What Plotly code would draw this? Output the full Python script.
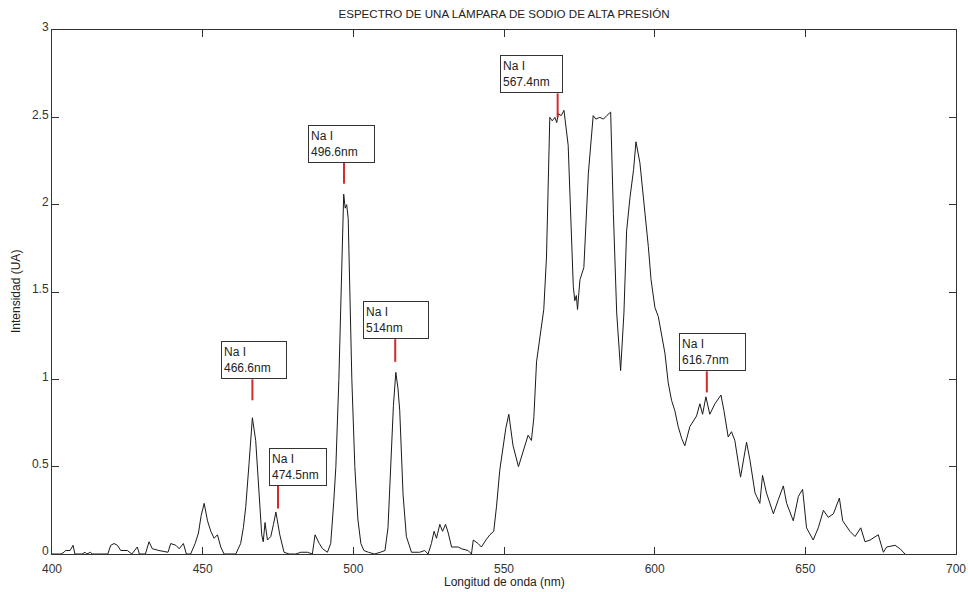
import plotly.graph_objects as go

# ---- Data ----
wavelength_nm = [
    400, 403, 404, 404.5, 406, 407, 407.6, 410, 411, 411.5, 412.8, 413.3, 418.5, 419.5, 420.6,
    421.7, 422.8, 425, 426.5, 428.3, 429, 431, 432.2, 433.3, 435.5, 437.7, 438.5, 439.4,
    441.1, 442.2, 443.6, 444.6, 446, 447.5, 448.6, 449.5, 450.5, 451.6, 452.7, 453.8,
    454.9, 456, 457.1, 461, 462.6, 463.5, 464.3, 465.4, 466.5, 467.6, 468.5, 469.6, 470.1,
    470.7, 471.5, 472.6, 473.5, 474.3, 475.6, 477, 478.7, 480.9, 482.6, 484.8, 486.4,
    487.3, 488.7, 489.8, 491.4, 492.5, 493.5, 494.2, 495.2, 496.0, 496.5, 496.8, 497.3,
    497.8, 498.3, 498.9, 499.5, 500.5, 501.5, 502.5, 503.5, 505, 507, 509, 510.5, 511.5,
    512.5, 513.3, 514.1, 514.8, 515.4, 516.5, 517.6, 519.3, 522, 523.7, 524.8, 525.9,
    526.8, 527.6, 528.7, 529.6, 530.6, 531.5, 532.6, 534.8, 535.9, 538.1, 539.2, 539.8,
    541.4, 542.5, 544, 545.3, 546.6, 547.5, 548.6, 549.7, 550.6, 551.6, 553, 554.8,
    556.5, 558, 559.1, 559.9, 560.8, 561.9, 563.2, 564.1, 564.7, 565.2, 566, 566.9,
    567.5, 568, 569, 569.9, 571.3, 572.4, 573, 573.5, 574, 574.4, 575.2, 576.5, 578,
    579.6, 580.5, 581.8, 583, 584.1, 585.4, 586.3, 587.4, 588.7, 589.8, 590.7, 591.8,
    593, 593.8, 595.1, 596.5, 597.9, 598.8, 600.1, 601.2, 602.3, 603.4, 604.5, 605.6,
    606.7, 607.8, 609, 610, 611.7, 612.8, 613.9, 615, 615.9, 617, 618.3, 620, 622, 623,
    624.4, 625.5, 626.6, 628.5, 630.5, 631.6, 633.3, 634.9, 635.8, 637.1, 639.4, 641,
    642.7, 643.8, 646, 647.7, 649.1, 650.4, 652.6, 654.3, 656, 657.6, 659.3, 661.3,
    662.4, 664.8, 666.5, 668.4, 669.8, 671.5, 674.2, 675.9, 677, 679.8, 681.4, 683.1,
]
intensity_ua = [
    0.00, 0.00, 0.01, 0.02, 0.02, 0.05, 0.00, 0.00, 0.01, 0.00, 0.01, 0.00, 0.00, 0.05, 0.06,
    0.05, 0.02, 0.02, 0.00, 0.04, 0.00, 0.00, 0.07, 0.03, 0.02, 0.01, 0.01, 0.06,
    0.05, 0.03, 0.06, 0.00, 0.00, 0.06, 0.12, 0.22, 0.29, 0.19, 0.13, 0.09,
    0.11, 0.04, 0.00, 0.00, 0.06, 0.15, 0.27, 0.52, 0.78, 0.65, 0.40, 0.11, 0.07,
    0.18, 0.08, 0.10, 0.17, 0.24, 0.11, 0.01, 0.00, 0.00, 0.01, 0.01, 0.00,
    0.11, 0.06, 0.03, 0.01, 0.06, 0.30, 0.50, 1.00, 1.50, 1.95, 2.06, 1.98,
    2.00, 1.92, 1.50, 1.00, 0.50, 0.20, 0.06, 0.02, 0.01, 0.00, 0.01, 0.02, 0.15,
    0.50, 0.85, 1.04, 0.95, 0.82, 0.34, 0.10, 0.01, 0.01, 0.02, 0.00, 0.06,
    0.13, 0.09, 0.17, 0.13, 0.17, 0.12, 0.04, 0.04, 0.03, 0.02, 0.00, 0.08,
    0.06, 0.04, 0.08, 0.11, 0.13, 0.27, 0.48, 0.60, 0.72, 0.80, 0.62, 0.50,
    0.60, 0.68, 0.65, 0.78, 1.10, 1.24, 1.40, 1.70, 2.20, 2.50, 2.48, 2.50,
    2.47, 2.52, 2.51, 2.54, 2.34, 1.85, 1.53, 1.45, 1.48, 1.40, 1.57, 1.64, 2.18,
    2.51, 2.49, 2.50, 2.49, 2.51, 2.53, 1.95, 1.38, 1.05, 1.38, 1.85, 2.04,
    2.20, 2.36, 2.24, 2.01, 1.76, 1.57, 1.41, 1.36, 1.26, 1.15, 0.98, 0.88,
    0.82, 0.73, 0.66, 0.62, 0.73, 0.76, 0.79, 0.86, 0.80, 0.90, 0.80, 0.86, 0.91, 0.82,
    0.67, 0.70, 0.65, 0.44, 0.64, 0.54, 0.35, 0.29, 0.45, 0.35, 0.23, 0.31,
    0.39, 0.29, 0.19, 0.33, 0.37, 0.15, 0.08, 0.15, 0.25, 0.21, 0.23, 0.32,
    0.19, 0.13, 0.10, 0.15, 0.07, 0.08, 0.11, 0.01, 0.04, 0.05, 0.03, 0.00,
]

# Labelled Na I lines
label_texts = ["Na I<br>466.6nm", "Na I<br>474.5nm", "Na I<br>496.6nm",
               "Na I<br>514nm", "Na I<br>567.4nm", "Na I<br>616.7nm"]
marker_x = [466.5, 475.0, 496.9, 513.9, 567.8, 617.3]
marker_bottom = [0.88, 0.26, 2.12, 1.10, 2.50, 0.925]
marker_top = [1.00, 0.39, 2.24, 1.23, 2.637, 1.046]

x_ticks = [400, 450, 500, 550, 600, 650, 700]
y_ticks = [0, 0.5, 1, 1.5, 2, 2.5, 3]

# ---- Layout styling (not data) ----
box_xshift = [-31, -9, -36, -32, -58, -28]
box_width = [60, 52, 61, 60, 57, 61]
FONT = "Liberation Sans, Arial, sans-serif"

fig = go.Figure()
fig.add_trace(go.Scatter(
    x=wavelength_nm, y=intensity_ua, mode="lines",
    line=dict(color="#1a1a1a", width=1), showlegend=False, hoverinfo="x+y",
    cliponaxis=True,
))

shapes = []
annotations = []
for txt, lx, yb, yt, xs, w in zip(label_texts, marker_x, marker_bottom, marker_top,
                                  box_xshift, box_width):
    shapes.append(dict(type="line", xref="x", yref="y", x0=lx, x1=lx, y0=yb, y1=yt,
                       line=dict(color="#d42a2a", width=2)))
    annotations.append(dict(
        x=lx, y=yt, xref="x", yref="y", text=txt, showarrow=False,
        xanchor="left", yanchor="bottom", xshift=xs, align="left", valign="middle",
        width=w, height=32, bordercolor="#333333", borderwidth=1, borderpad=2,
        bgcolor="white", font=dict(family=FONT, size=12, color="#222222"),
    ))

# axis titles
annotations.append(dict(text="Longitud de onda (nm)", x=0.5, y=0, xref="paper", yref="paper",
                        showarrow=False, xanchor="center", yanchor="middle", yshift=-28,
                        font=dict(family=FONT, size=12, color="#222222")))
annotations.append(dict(text="Intensidad (UA)", x=0, y=0.5, xref="paper", yref="paper",
                        showarrow=False, xanchor="center", yanchor="middle", xshift=-36,
                        textangle=-90, font=dict(family=FONT, size=12, color="#222222")))

axis_common = dict(
    showgrid=False, zeroline=False, showline=True, linecolor="#333333", linewidth=1,
    mirror="ticks", ticks="inside", ticklen=7, tickwidth=1, tickcolor="#333333",
    tickfont=dict(family=FONT, size=12, color="#333333"), automargin=False,
)

fig.update_layout(
    width=968, height=592,
    margin=dict(l=52, r=12, t=30, b=38),
    paper_bgcolor="white", plot_bgcolor="white",
    title=dict(text="ESPECTRO DE UNA LÁMPARA DE SODIO DE ALTA PRESIÓN",
               x=0.5, xref="paper", xanchor="center", y=1 - 14 / 592, yanchor="middle",
               font=dict(family=FONT, size=11.6, color="#222222")),
    xaxis=dict(range=[400, 700], tickvals=x_ticks, ticktext=[str(v) for v in x_ticks],
               ticklabelstandoff=4, **axis_common),
    yaxis=dict(range=[0, 3], tickvals=y_ticks, ticktext=[f"{v:g}" for v in y_ticks],
               ticklabelshift=-3, **axis_common),
    shapes=shapes, annotations=annotations,
)

fig.write_html("out.html")
